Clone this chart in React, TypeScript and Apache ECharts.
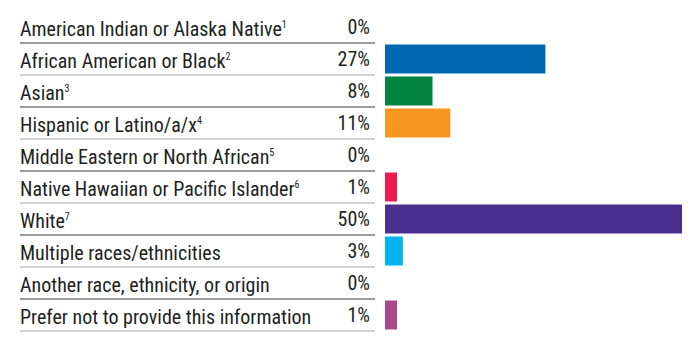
import React, { useEffect, useRef } from "react";
import * as echarts from "echarts";

const categories = [
  "American Indian or Alaska Native",
  "African American or Black",
  "Asian",
  "Hispanic or Latino/a/x",
  "Middle Eastern or North African",
  "Native Hawaiian or Pacific Islander",
  "White",
  "Multiple races/ethnicities",
  "Another race, ethnicity, or origin",
  "Prefer not to provide this information",
];
const footnotes = ["1", "2", "3", "4", "5", "6", "7", "", "", ""];
const shares = [0, 27, 8, 11, 0, 1, 50, 3, 0, 1];
const barColors = [
  "#0067B1",
  "#0067B1",
  "#00843F",
  "#F7971F",
  "#EE1B4E",
  "#EE1B4E",
  "#4A2F8F",
  "#00B5EF",
  "#A84A8A",
  "#A84A8A",
];

const FONT = "'Roboto Condensed', 'Liberation Sans', sans-serif";
const TEXT = "#231f20";

export default function App() {
  const ref = useRef<HTMLDivElement>(null);
  useEffect(() => {
    if (!ref.current) return;
    const chart = echarts.init(ref.current, undefined, { renderer: "svg" });
    const labels = categories.map((c, i) =>
      footnotes[i] ? `{n|${c}}{s|${footnotes[i]}}` : `{n|${c}}`
    );
    chart.setOption({
      animation: false,
      backgroundColor: "#ffffff",
      grid: [
        { left: 385, right: 18, top: 11, bottom: 30 },
        { left: 20, right: 325, top: 11, bottom: 30 },
      ],
      xAxis: [
        { type: "value", gridIndex: 0, min: 0, max: 50, show: false },
        { type: "value", gridIndex: 1, min: 0, max: 1, show: false },
      ],
      yAxis: [
        {
          type: "category",
          gridIndex: 0,
          inverse: true,
          data: categories,
          show: false,
        },
        {
          type: "category",
          gridIndex: 1,
          inverse: true,
          position: "left",
          data: labels,
          axisLine: { show: false },
          axisTick: { show: false },
          splitLine: {
            show: true,
            showMinLine: false,
            lineStyle: { color: ["#7d7d7d", "#c2c2c2"], width: 1.6 },
          },
          axisLabel: {
            align: "left",
            margin: 0,
            rich: {
              n: { fontFamily: FONT, fontSize: 20, color: TEXT, padding: [3, 0, 0, 0] },
              s: {
                fontFamily: FONT,
                fontSize: 10,
                color: TEXT,
                verticalAlign: "top",
                padding: [4, 0, 8, 0],
              },
            },
          },
        },
        {
          type: "category",
          gridIndex: 1,
          inverse: true,
          position: "right",
          data: shares.map((v) => `${v}%`),
          axisLine: { show: false },
          axisTick: { show: false },
          axisLabel: {
            inside: true,
            margin: 5,
            fontFamily: FONT,
            fontSize: 20,
            color: TEXT,
            padding: [3, 0, 0, 0],
          },
        },
      ],
      series: [
        {
          type: "bar",
          xAxisIndex: 0,
          yAxisIndex: 0,
          barWidth: 29,
          barMinHeight: 12,
          data: shares.map((v, i) => ({
            value: v === 0 ? "-" : v,
            itemStyle: { color: barColors[i] },
          })),
        },
      ],
    });
    return () => chart.dispose();
  }, []);
  return <div ref={ref} style={{ width: 700, height: 361, position: "absolute", left: 0, top: 0 }} />;
}
